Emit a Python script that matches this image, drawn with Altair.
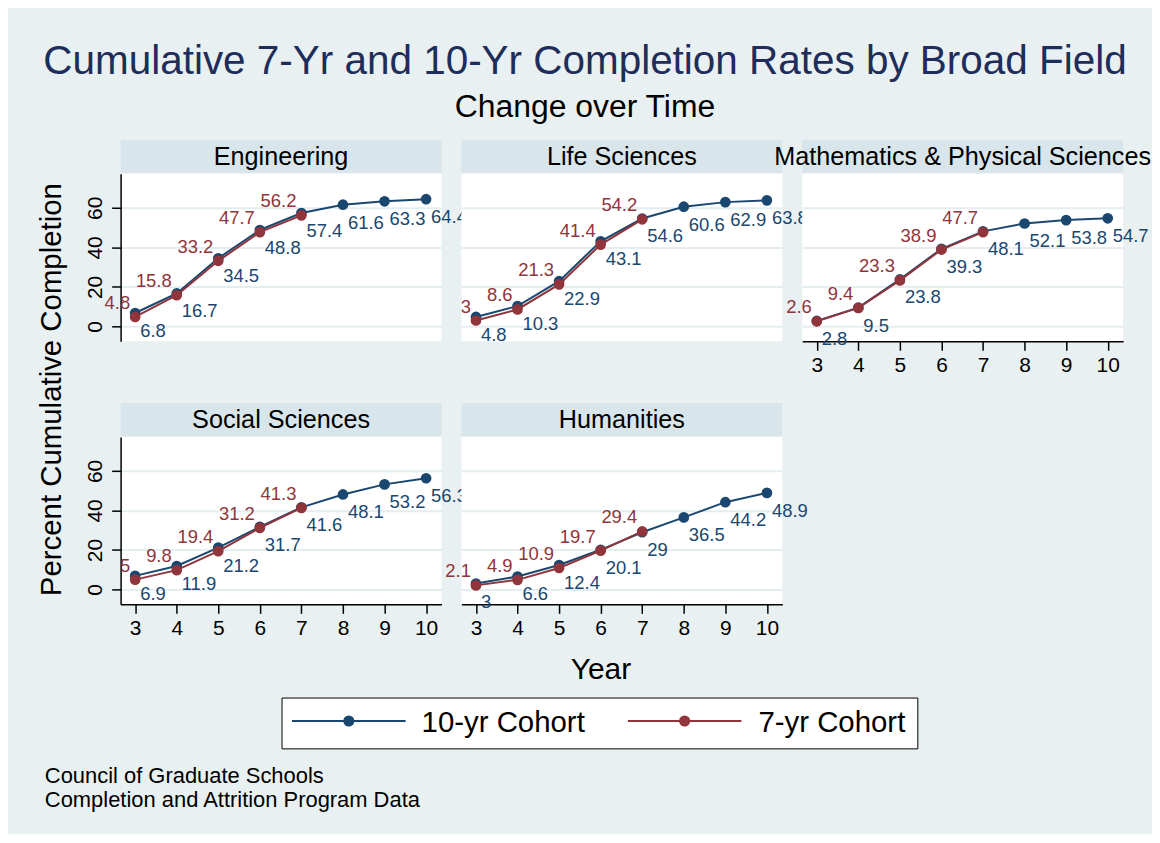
import altair as alt
import pandas as pd

TITLE = "Cumulative 7-Yr and 10-Yr Completion Rates by Broad Field"
SUBTITLE = "Change over Time"
Y_TITLE = "Percent Cumulative Completion"
X_TITLE = "Year"
SOURCE_1 = "Council of Graduate Schools"
SOURCE_2 = "Completion and Attrition Program Data"

FIELDS = ["Engineering", "Life Sciences", "Mathematics & Physical Sciences",
          "Social Sciences", "Humanities"]
SERIES = ["10-yr Cohort", "7-yr Cohort"]
COLORS = ["#1A476F", "#90353B"]
YEARS_10 = [3, 4, 5, 6, 7, 8, 9, 10]
YEARS_7 = [3, 4, 5, 6, 7]
Y_TICKS = [0, 20, 40, 60]

ENG_10 = [6.8, 16.7, 34.5, 48.8, 57.4, 61.6, 63.3, 64.4]
ENG_7 = [4.8, 15.8, 33.2, 47.7, 56.2]
LIFE_10 = [4.8, 10.3, 22.9, 43.1, 54.6, 60.6, 62.9, 63.8]
LIFE_7 = [3, 8.6, 21.3, 41.4, 54.2]
MATH_10 = [2.8, 9.5, 23.8, 39.3, 48.1, 52.1, 53.8, 54.7]
MATH_7 = [2.6, 9.4, 23.3, 38.9, 47.7]
SOC_10 = [6.9, 11.9, 21.2, 31.7, 41.6, 48.1, 53.2, 56.3]
SOC_7 = [5, 9.8, 19.4, 31.2, 41.3]
HUM_10 = [3, 6.6, 12.4, 20.1, 29, 36.5, 44.2, 48.9]
HUM_7 = [2.1, 4.9, 10.9, 19.7, 29.4]

TEN = [ENG_10, LIFE_10, MATH_10, SOC_10, HUM_10]
SEVEN = [ENG_7, LIFE_7, MATH_7, SOC_7, HUM_7]

rows = []
for f, v10, v7 in zip(FIELDS, TEN, SEVEN):
    for yr, v in zip(YEARS_10, v10):
        rows.append({"field": f, "series": SERIES[0], "year": yr, "value": v, "label": f"{v:g}"})
    for yr, v in zip(YEARS_7, v7):
        rows.append({"field": f, "series": SERIES[1], "year": yr, "value": v, "label": f"{v:g}"})
df = pd.DataFrame(rows)

FONT = "Liberation Sans"
BG = "#E8F0F2"
STRIP = "#D8E5EA"
GRID = "#E4EEF1"
TITLE_COLOR = "#1E2D59"
W, H = 322, 168
XDOM = [2.65, 10.37]
YDOM = [-7.5, 77.2]
DOT = 115


def txt(s, x, y, size, color="black", align="center", baseline="alphabetic", angle=0):
    return alt.Chart(pd.DataFrame({"t": [s]})).mark_text(
        font=FONT, fontSize=size, color=color, align=align, baseline=baseline, angle=angle
    ).encode(x=alt.value(x), y=alt.value(y), text="t:N")


def extras_main():
    layers = [
        txt(TITLE, 466, -100, 40.6, TITLE_COLOR),
        txt(SUBTITLE, 466, -57, 32),
        txt(Y_TITLE, -60, 216.5, 29.5, angle=270),
        txt(X_TITLE, 482, 507, 30),
        txt(SOURCE_1, -76, 611, 22, align="left"),
        txt(SOURCE_2, -76, 635, 22, align="left"),
    ]
    box = alt.Chart(pd.DataFrame({"t": ["legend"]})).mark_rect(
        fill="white", stroke="black", strokeWidth=1
    ).encode(x=alt.value(162), x2=alt.value(800), y=alt.value(526), y2=alt.value(577))
    layers.append(box)
    entries = [(172, 286, 229, 302), (509, 623, 566, 640)]
    for (x1, x2, xd, xt), s, c in zip(entries, SERIES, COLORS):
        d = pd.DataFrame({"t": [s]})
        layers.append(alt.Chart(d).mark_rule(color=c, strokeWidth=2).encode(
            x=alt.value(x1), x2=alt.value(x2), y=alt.value(549)))
        layers.append(alt.Chart(d).mark_circle(color=c, size=DOT + 10, opacity=1).encode(
            x=alt.value(xd), y=alt.value(549)))
        layers.append(txt(s, xt, 551, 29.5, align="left", baseline="middle"))
    return layers


def make_panel(field, show_x, show_y, extras=()):
    d = df[df.field == field]
    if show_x:
        xaxis = alt.Axis(values=YEARS_10, format="d", tickSize=9, tickColor="black",
                         tickWidth=1.5, domainColor="black", domainWidth=1.5,
                         labelFontSize=21, labelColor="black", labelPadding=4,
                         labelFont=FONT, grid=False, title=None)
    else:
        xaxis = None
    if show_y:
        yaxis = alt.Axis(values=Y_TICKS, grid=True, gridColor=GRID, gridWidth=2,
                         tickSize=9, tickColor="black", tickWidth=1.5,
                         domainColor="black", domainWidth=1.5, labelAngle=270,
                         labelAlign="center", labelBaseline="alphabetic",
                         labelPadding=10, labelFontSize=21, labelColor="black",
                         labelFont=FONT, title=None)
    else:
        yaxis = alt.Axis(values=Y_TICKS, grid=True, gridColor=GRID, gridWidth=2,
                         labels=False, ticks=False, domain=False, title=None)
    x = alt.X("year:Q", scale=alt.Scale(domain=XDOM, nice=False, zero=False), axis=xaxis)
    y = alt.Y("value:Q", scale=alt.Scale(domain=YDOM, nice=False, zero=False), axis=yaxis)

    strip = alt.Chart(pd.DataFrame({"t": [field]})).mark_rect(color=STRIP).encode(
        x=alt.value(0), x2=alt.value(W), y=alt.value(-34), y2=alt.value(-1))
    strip_t = txt(field, W / 2, -9, 25.3)

    layers = [strip, strip_t]
    for s, c in zip(SERIES, COLORS):
        ds = d[d.series == s]
        base = alt.Chart(ds)
        layers.append(base.mark_line(color=c, strokeWidth=2).encode(x=x, y=y))
        layers.append(base.mark_circle(color=c, size=DOT, opacity=1).encode(x=x, y=y))
        if s == SERIES[0]:
            lab = base.mark_text(font=FONT, fontSize=18.5, color=c, align="left",
                                 baseline="alphabetic", dx=5, dy=24)
        else:
            lab = base.mark_text(font=FONT, fontSize=18.5, color=c, align="right",
                                 baseline="alphabetic", dx=-5, dy=-8)
        layers.append(lab.encode(x=x, y=y, text="label:N"))
    layers.extend(extras)
    return alt.layer(*layers).properties(width=W, height=H)


p1 = make_panel(FIELDS[0], False, True, extras_main())
p2 = make_panel(FIELDS[1], False, False)
p3 = make_panel(FIELDS[2], True, False)
p4 = make_panel(FIELDS[3], True, True)
p5 = make_panel(FIELDS[4], True, False)

chart = alt.concat(
    p1, p2, p3, p4, p5, columns=3,
    spacing=alt.RowColnumber(row=96, column=20), bounds="flush",
).properties(
    padding={"left": 28, "top": 33, "right": 0, "bottom": 22}
).configure(
    background=BG, font=FONT
).configure_view(fill="white", stroke=None)

chart.save("out.html", embed_options={"renderer": "svg", "actions": False})
